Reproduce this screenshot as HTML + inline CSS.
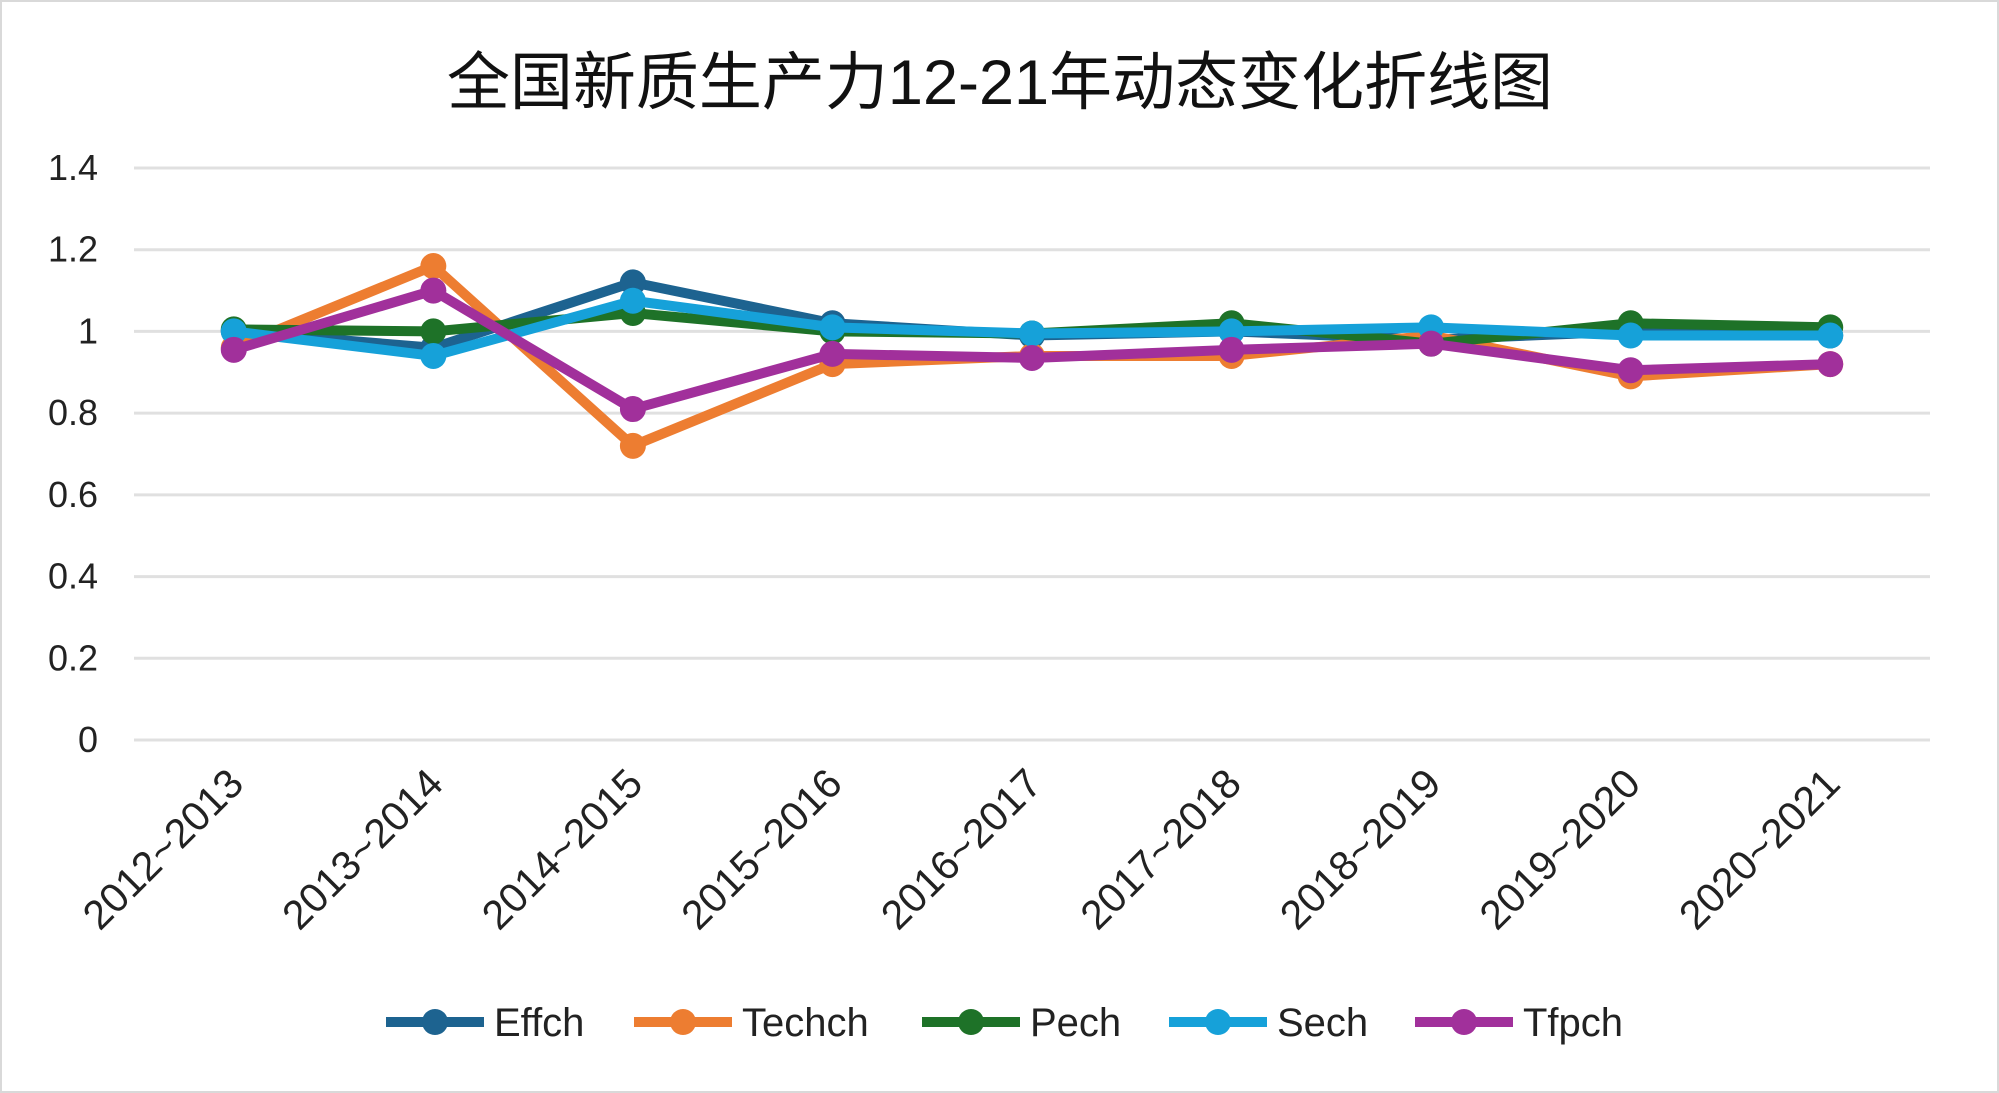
<!DOCTYPE html>
<html><head><meta charset="utf-8"><style>
html,body{margin:0;padding:0;background:#fff;}
svg{display:block;font-family:"Liberation Sans","Noto Sans CJK SC",sans-serif;}
</style></head><body>
<svg id="chart" width="1999" height="1093" viewBox="0 0 1999 1093">
<rect x="1" y="1" width="1997" height="1091" fill="#fff" stroke="#d9d9d9" stroke-width="2"/>
<text x="1000" y="104" text-anchor="middle" font-size="63" fill="#111">全国新质生产力12-21年动态变化折线图</text>
<g id="grid"></g><g id="yt"></g><g id="xt"></g><g id="series"></g><g id="legend"></g>
</svg>
<script>
const categories=["2012~2013","2013~2014","2014~2015","2015~2016","2016~2017","2017~2018","2018~2019","2019~2020","2020~2021"];
const yTicks=[0,0.2,0.4,0.6,0.8,1,1.2,1.4];
const yTickLabels=["0","0.2","0.4","0.6","0.8","1","1.2","1.4"];
const seriesNames=["Effch","Techch","Pech","Sech","Tfpch"];
const effch=[1.00,0.96,1.12,1.02,0.99,1.00,0.98,1.00,0.99];
const techch=[0.96,1.16,0.72,0.92,0.94,0.94,0.99,0.89,0.92];
const pech=[1.005,1.00,1.045,1.00,0.995,1.02,0.97,1.02,1.01];
const sech=[1.00,0.94,1.075,1.01,0.995,1.00,1.01,0.99,0.99];
const tfpch=[0.955,1.10,0.81,0.945,0.935,0.955,0.97,0.905,0.92];
const colors=["#1d6390","#ed7d31","#1e7228","#16a1d9","#a1309b"];
const NS="http://www.w3.org/2000/svg";
const L=134,R=1930,Y0=740,Y14=168;
const x=i=>L+(R-L)/categories.length*(i+0.5);
const y=v=>Y0-(Y0-Y14)*v/1.4;
function mk(tag,attrs,parent){const e=document.createElementNS(NS,tag);for(const k in attrs)e.setAttribute(k,attrs[k]);parent.appendChild(e);return e;}
const grid=document.getElementById('grid'),yt=document.getElementById('yt'),xt=document.getElementById('xt');
yTicks.forEach((t,i)=>{
 const g=mk('line',{x1:L,x2:R,y1:y(t),y2:y(t),stroke:'#e0e0e0','stroke-width':3},grid);
 
 
 const tx=mk('text',{x:98,y:y(t)+12,'text-anchor':'end','font-size':36,fill:'#222'},yt);
 tx.textContent=yTickLabels[i];
 
 
});
categories.forEach((c,i)=>{
 const tx=mk('text',{'text-anchor':'end','font-size':41,fill:'#222',transform:`translate(${x(i)+12},786) rotate(-45)`},xt);
 tx.textContent=c;
 
 
});
const data=[effch,techch,pech,sech,tfpch];
const sg=document.getElementById('series');
data.forEach((d,s)=>{
 const g=mk('g',{},sg);
 
 
 const p=mk('polyline',{points:d.map((v,i)=>x(i)+','+y(v)).join(' '),fill:'none',stroke:colors[s],'stroke-width':10,'stroke-linejoin':'round'},g);
 
 
 d.forEach((v,i)=>{
  const c=mk('circle',{cx:x(i),cy:y(v),r:13,fill:colors[s]},g);
  
  
 });
});
const lg=document.getElementById('legend');
const lx=[386,634,922,1169,1415];
seriesNames.forEach((n,s)=>{
 const g=mk('g',{},lg);
 
 
 mk('line',{x1:lx[s],x2:lx[s]+98,y1:1022,y2:1022,stroke:colors[s],'stroke-width':10},g);
 mk('circle',{cx:lx[s]+49,cy:1022,r:13,fill:colors[s]},g);
 const t=mk('text',{x:lx[s]+108,y:1036,'font-size':40,fill:'#222'},g);
 t.textContent=n;
});
</script>
</body></html>
